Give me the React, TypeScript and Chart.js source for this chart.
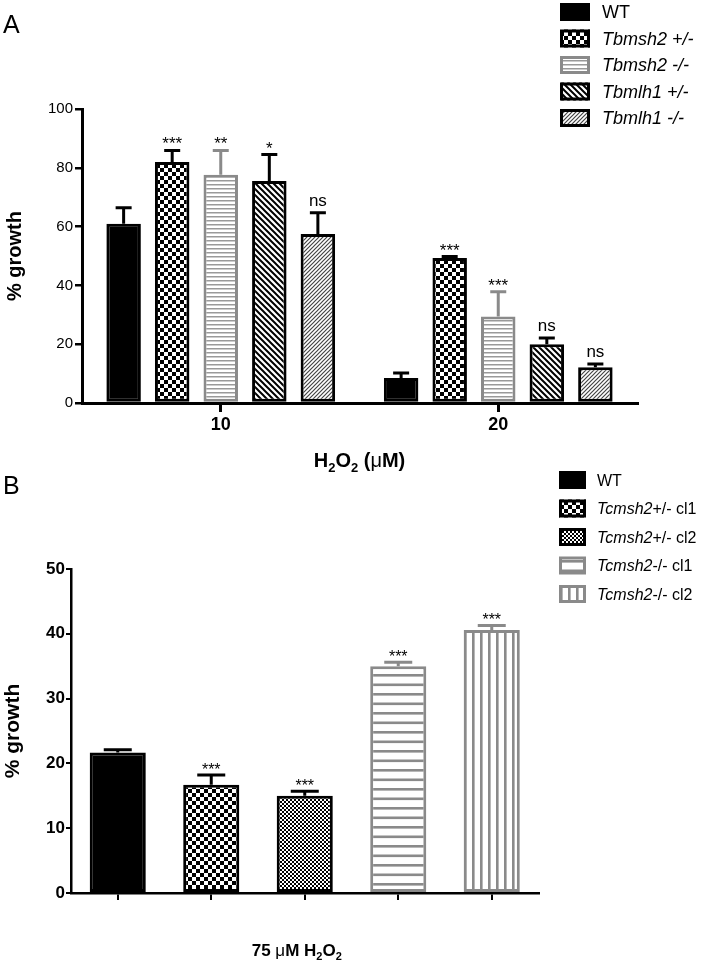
import React, { useEffect, useRef } from 'react';
import { Chart, registerables } from 'chart.js';

Chart.register(...registerables);

const FONT = '"Liberation Sans", Arial, Helvetica, sans-serif';
Chart.defaults.font.family = FONT;
Chart.defaults.color = '#000';

// ---------------- Panel A data ----------------
const doseLabels = ['10', '20'];
const seriesA = ['WT', 'Tbmsh2 +/-', 'Tbmsh2 -/-', 'Tbmlh1 +/-', 'Tbmlh1 -/-'];
const wtA = [61.0, 8.5];
const tbmsh2HetA = [82.0, 49.3];
const tbmsh2KoA = [77.6, 29.4];
const tbmlh1HetA = [75.5, 20.0];
const tbmlh1KoA = [57.5, 12.2];
const wtErrA = [5.4, 1.7];
const tbmsh2HetErrA = [3.9, 0.5];
const tbmsh2KoErrA = [8.3, 8.4];
const tbmlh1HetErrA = [9.0, 2.1];
const tbmlh1KoErrA = [7.2, 1.1];
const wtSigA = ['', ''];
const tbmsh2HetSigA = ['***', '***'];
const tbmsh2KoSigA = ['**', '***'];
const tbmlh1HetSigA = ['*', 'ns'];
const tbmlh1KoSigA = ['ns', 'ns'];
const yTicksA = [0, 20, 40, 60, 80, 100];

// ---------------- Panel B data ----------------
const strainsB = ['WT', 'Tcmsh2+/- cl1', 'Tcmsh2+/- cl2', 'Tcmsh2-/- cl1', 'Tcmsh2-/- cl2'];
const growthB = [21.7, 16.7, 15.0, 35.0, 40.6];
const errB = [0.4, 1.5, 0.7, 0.6, 0.7];
const sigB = ['', '***', '***', '***', '***'];
const yTicksB = [0, 10, 20, 30, 40, 50];

const GRAY = '#8a8a8a';

// ---------------- pattern helpers ----------------
function tile(w: number, h: number, draw: (g: CanvasRenderingContext2D) => void): CanvasPattern {
  const c = document.createElement('canvas');
  c.width = w;
  c.height = h;
  const g = c.getContext('2d')!;
  g.fillStyle = '#fff';
  g.fillRect(0, 0, w, h);
  draw(g);
  return g.createPattern(c, 'repeat')!;
}
const checker = (cell: number) =>
  tile(cell * 2, cell * 2, (g) => {
    g.fillStyle = '#000';
    g.fillRect(0, 0, cell, cell);
    g.fillRect(cell, cell, cell, cell);
  });
const hlines = (period: number, lw: number, color: string) =>
  tile(8, period * 2, (g) => {
    g.fillStyle = color;
    g.fillRect(0, 0, 8, lw);
    g.fillRect(0, period, 8, lw);
  });
const vlines = (period: number, lw: number, color: string) =>
  tile(period, 8, (g) => {
    g.fillStyle = color;
    g.fillRect(0, 0, lw, 8);
  });
const diag = (s: number, lw: number, color: string, dir: 'back' | 'fwd') =>
  tile(s, s, (g) => {
    g.strokeStyle = color;
    g.lineWidth = lw;
    g.beginPath();
    if (dir === 'back') {
      g.moveTo(0, 0); g.lineTo(s, s);
      g.moveTo(-s / 2, s / 2); g.lineTo(s / 2, (3 * s) / 2);
      g.moveTo(s / 2, -s / 2); g.lineTo((3 * s) / 2, s / 2);
    } else {
      g.moveTo(0, s); g.lineTo(s, 0);
      g.moveTo(-s / 2, s / 2); g.lineTo(s / 2, -s / 2);
      g.moveTo(s / 2, (3 * s) / 2); g.lineTo((3 * s) / 2, s / 2);
    }
    g.stroke();
  });

// ---------------- drawing helpers ----------------
type Run = { t: string; font: string; dy?: number };
function drawRuns(ctx: CanvasRenderingContext2D, runs: Run[], x: number, y: number, align: 'left' | 'center') {
  let w = 0;
  runs.forEach((r) => {
    ctx.font = r.font;
    w += ctx.measureText(r.t).width;
  });
  let cx = align === 'center' ? x - w / 2 : x;
  ctx.textAlign = 'left';
  ctx.textBaseline = 'alphabetic';
  runs.forEach((r) => {
    ctx.font = r.font;
    ctx.fillText(r.t, cx, y + (r.dy || 0));
    cx += ctx.measureText(r.t).width;
  });
}

const errorBarPlugin = {
  id: 'errorBars',
  afterDatasetsDraw(chart: any, _args: any, opts: any) {
    const ctx: CanvasRenderingContext2D = chart.ctx;
    const y = chart.scales.y;
    chart.data.datasets.forEach((ds: any, di: number) => {
      const meta = chart.getDatasetMeta(di);
      meta.data.forEach((bar: any, j: number) => {
        const v = ds.data[j];
        const e = ds.errors[j];
        const col = Array.isArray(ds.borderColor) ? ds.borderColor[j] : ds.borderColor;
        const yv = y.getPixelForValue(v);
        const yt = y.getPixelForValue(v + e);
        ctx.save();
        ctx.strokeStyle = col;
        ctx.lineWidth = opts.lineWidth;
        ctx.beginPath();
        ctx.moveTo(bar.x, yv);
        ctx.lineTo(bar.x, yt);
        ctx.moveTo(bar.x - opts.cap / 2, yt);
        ctx.lineTo(bar.x + opts.cap / 2, yt);
        ctx.stroke();
        const s = ds.sig[j];
        if (s) {
          const star = s.indexOf('*') >= 0;
          ctx.fillStyle = '#000';
          ctx.textAlign = 'center';
          ctx.textBaseline = 'alphabetic';
          ctx.font = `${star ? opts.starSize : opts.nsSize}px ${FONT}`;
          ctx.fillText(s, bar.x, yt - (star ? opts.starGap : opts.nsGap));
        }
        ctx.restore();
      });
    });
  },
};

type LegendEntry = { label: string; fill: any; border: string };
function drawLegend(
  ctx: CanvasRenderingContext2D,
  entries: LegendEntry[],
  L: { x: number; top: number; step: number; w: number; h: number; textX: number; size: number; italicRest: boolean }
) {
  entries.forEach((en, i) => {
    const y0 = L.top + i * L.step;
    ctx.save();
    ctx.fillStyle = en.fill;
    ctx.fillRect(L.x, y0, L.w, L.h);
    ctx.strokeStyle = en.border;
    ctx.lineWidth = 3;
    ctx.strokeRect(L.x + 1.5, y0 + 1.5, L.w - 3, L.h - 3);
    ctx.fillStyle = '#000';
    const base = y0 + L.h / 2 + L.size * 0.36;
    const m = en.label.match(/^([A-Za-z]+\d)(.*)$/);
    if (m) {
      drawRuns(
        ctx,
        [
          { t: m[1], font: `italic ${L.size}px ${FONT}` },
          { t: m[2], font: `${L.italicRest ? 'italic ' : ''}${L.size}px ${FONT}` },
        ],
        L.textX,
        base,
        'left'
      );
    } else {
      drawRuns(ctx, [{ t: en.label, font: `${L.size}px ${FONT}` }], L.textX, base, 'left');
    }
    ctx.restore();
  });
}

function configA(): any {
  const values = [wtA, tbmsh2HetA, tbmsh2KoA, tbmlh1HetA, tbmlh1KoA];
  const errors = [wtErrA, tbmsh2HetErrA, tbmsh2KoErrA, tbmlh1HetErrA, tbmlh1KoErrA];
  const sigs = [wtSigA, tbmsh2HetSigA, tbmsh2KoSigA, tbmlh1HetSigA, tbmlh1KoSigA];
  const fills = ['#000', checker(4), hlines(4, 1.5, '#999'), diag(6, 2, '#000', 'back'), diag(4, 1.2, '#444', 'fwd')];
  const borders = ['#000', '#000', GRAY, '#000', '#000'];
  const datasets = seriesA.map((name, i) => ({
    label: name,
    data: values[i],
    errors: errors[i],
    sig: sigs[i],
    backgroundColor: fills[i],
    borderColor: borders[i],
    borderWidth: 3,
    borderSkipped: false,
    categoryPercentage: 0.875,
    barPercentage: 0.71,
  }));
  const decor = {
    id: 'decorA',
    afterDraw(chart: any) {
      const ctx: CanvasRenderingContext2D = chart.ctx;
      const ca = chart.chartArea;
      ctx.save();
      ctx.fillStyle = '#000';
      drawRuns(ctx, [{ t: 'A', font: `25px ${FONT}` }], 3, 33, 'left');
      const B = `bold 20px ${FONT}`;
      const S = `bold 13px ${FONT}`;
      drawRuns(
        ctx,
        [
          { t: 'H', font: B },
          { t: '2', font: S, dy: 5 },
          { t: 'O', font: B },
          { t: '2', font: S, dy: 5 },
          { t: ' (', font: B },
          { t: 'μ', font: `20px ${FONT}` },
          { t: 'M)', font: B },
        ],
        (ca.left + ca.right) / 2,
        467,
        'center'
      );
      drawLegend(
        ctx,
        datasets.map((d) => ({ label: d.label, fill: d.backgroundColor, border: d.borderColor })),
        { x: 560, top: 3, step: 26.5, w: 30, h: 18, textX: 602, size: 18, italicRest: true }
      );
      ctx.restore();
    },
  };
  return {
    type: 'bar',
    data: { labels: doseLabels, datasets },
    options: {
      responsive: false,
      animation: false,
      layout: { padding: { top: 109, right: 64, left: 0, bottom: 0 } },
      plugins: {
        legend: { display: false },
        tooltip: { enabled: false },
        errorBars: { lineWidth: 3, cap: 16, starSize: 17, nsSize: 17, starGap: 1, nsGap: 7 },
      },
      scales: {
        x: {
          type: 'category',
          offset: true,
          ticks: { color: '#000', font: { size: 18, weight: 'bold' }, padding: 2 },
          grid: { display: true, offset: false, drawOnChartArea: false, drawTicks: true, tickLength: 9, color: '#000', lineWidth: 3 },
          border: { display: true, color: '#000', width: 3, z: 1 },
          afterFit: (s: any) => { s.height = 77; },
        },
        y: {
          min: 0,
          max: 100,
          afterBuildTicks: (s: any) => { s.ticks = yTicksA.map((v) => ({ value: v })); },
          ticks: { color: '#000', font: { size: 15 }, padding: 2 },
          grid: { display: true, drawOnChartArea: false, drawTicks: true, tickLength: 7, color: '#000', lineWidth: 2.5 },
          border: { display: true, color: '#000', width: 3, z: 1 },
          title: { display: true, text: '% growth', color: '#000', font: { size: 20, weight: 'bold' }, padding: { top: 3, bottom: 0 } },
          afterFit: (s: any) => { s.width = 82; },
        },
      },
    },
    plugins: [errorBarPlugin, decor],
  };
}

function configB(): any {
  const fills = ['#000', checker(4), checker(2), hlines(9.5, 2.6, GRAY), vlines(8, 2.6, GRAY)];
  const borders = ['#000', '#000', '#000', GRAY, GRAY];
  const datasets = [
    {
      label: '% growth',
      data: growthB,
      errors: errB,
      sig: sigB,
      backgroundColor: fills,
      borderColor: borders,
      borderWidth: 3,
      borderSkipped: false,
      categoryPercentage: 1.0,
      barPercentage: 0.6,
    },
  ];
  const decor = {
    id: 'decorB',
    afterDraw(chart: any) {
      const ctx: CanvasRenderingContext2D = chart.ctx;
      const ca = chart.chartArea;
      ctx.save();
      ctx.fillStyle = '#000';
      drawRuns(ctx, [{ t: 'B', font: `25px ${FONT}` }], 3, 29, 'left');
      const B = `bold 17px ${FONT}`;
      const S = `bold 11px ${FONT}`;
      drawRuns(
        ctx,
        [
          { t: '75 ', font: B },
          { t: 'μ', font: `17px ${FONT}` },
          { t: 'M H', font: B },
          { t: '2', font: S, dy: 4 },
          { t: 'O', font: B },
          { t: '2', font: S, dy: 4 },
        ],
        (ca.left + ca.right) / 2 - 8,
        491,
        'center'
      );
      drawLegend(
        ctx,
        strainsB.map((s, i) => ({ label: s, fill: fills[i], border: borders[i] })),
        { x: 559, top: 6, step: 28.5, w: 27, h: 18, textX: 597, size: 16, italicRest: false }
      );
      ctx.restore();
    },
  };
  return {
    type: 'bar',
    data: { labels: strainsB, datasets },
    options: {
      responsive: false,
      animation: false,
      layout: { padding: { top: 104, right: 162.5, left: 0, bottom: 0 } },
      plugins: {
        legend: { display: false },
        tooltip: { enabled: false },
        errorBars: { lineWidth: 3, cap: 28, starSize: 16, nsSize: 16, starGap: 0, nsGap: 7 },
      },
      scales: {
        x: {
          type: 'category',
          offset: true,
          ticks: { display: false },
          grid: { display: true, offset: false, drawOnChartArea: false, drawTicks: true, tickLength: 7, color: '#000', lineWidth: 2 },
          border: { display: true, color: '#000', width: 2.5, z: 1 },
          afterFit: (s: any) => { s.height = 72; },
        },
        y: {
          min: 0,
          max: 50,
          afterBuildTicks: (s: any) => { s.ticks = yTicksB.map((v) => ({ value: v })); },
          ticks: { color: '#000', font: { size: 17, weight: 'bold' }, padding: 1 },
          grid: { display: true, drawOnChartArea: false, drawTicks: true, tickLength: 5, color: '#000', lineWidth: 2 },
          border: { display: true, color: '#000', width: 2.5, z: 1 },
          title: { display: true, text: '% growth', color: '#000', font: { size: 21, weight: 'bold' }, padding: { top: 1, bottom: 0 } },
          afterFit: (s: any) => { s.width = 71; },
        },
      },
    },
    plugins: [errorBarPlugin, decor],
  };
}

export default function App() {
  const refA = useRef<HTMLCanvasElement>(null);
  const refB = useRef<HTMLCanvasElement>(null);
  useEffect(() => {
    const a = new Chart(refA.current!, configA());
    const b = new Chart(refB.current!, configB());
    return () => {
      a.destroy();
      b.destroy();
    };
  }, []);
  return (
    <div style={{ position: 'absolute', left: 0, top: 0, width: 701, height: 965, background: '#fff', overflow: 'hidden' }}>
      <canvas ref={refA} width={701} height={480} style={{ position: 'absolute', left: 0, top: 0 }} />
      <canvas ref={refB} width={701} height={500} style={{ position: 'absolute', left: 0, top: 465 }} />
    </div>
  );
}
